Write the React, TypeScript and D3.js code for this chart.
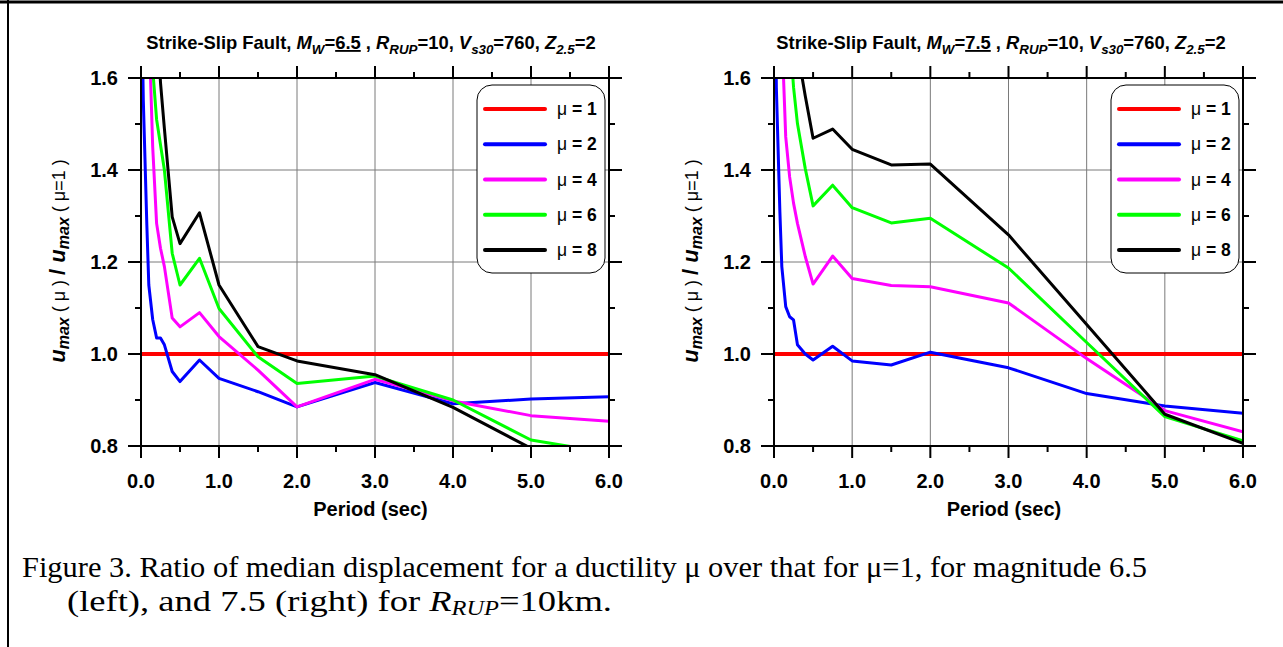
import React from 'react';
import * as d3 from 'd3';

const periods = [0.01, 0.02, 0.03, 0.05, 0.075, 0.1, 0.15, 0.2, 0.25, 0.3, 0.4, 0.5, 0.75, 1, 1.5, 2, 3, 4, 5, 6];
const muLabels = ['1', '2', '4', '6', '8'];
const seriesColors = ['#ff0000', '#0000ff', '#ff00ff', '#00ff00', '#000000'];
const xTicks = [0, 1, 2, 3, 4, 5, 6];
const xTickLabels = ['0.0', '1.0', '2.0', '3.0', '4.0', '5.0', '6.0'];
const yTicks = [0.8, 1.0, 1.2, 1.4, 1.6];
const yTickLabels = ['0.8', '1.0', '1.2', '1.4', '1.6'];

// Mw 6.5
const m65Mu1 = [1, 1, 1, 1, 1, 1, 1, 1, 1, 1, 1, 1, 1, 1, 1, 1, 1, 1, 1, 1];
const m65Mu2 = [1.85, 1.65, 1.55, 1.43, 1.28, 1.15, 1.075, 1.035, 1.035, 1.02, 0.962, 0.94, 0.987, 0.947, 0.918, 0.885, 0.938, 0.892, 0.902, 0.907];
const m65Mu4 = [3.0, 2.6, 2.3, 2.0, 1.85, 1.72, 1.45, 1.284, 1.23, 1.19, 1.078, 1.059, 1.09, 1.038, 0.965, 0.885, 0.945, 0.898, 0.866, 0.854];
const m65Mu6 = [3.3, 2.9, 2.6, 2.3, 2.05, 1.9, 1.62, 1.51, 1.455, 1.4, 1.219, 1.15, 1.208, 1.099, 0.994, 0.936, 0.952, 0.9, 0.813, 0.785];
const m65Mu8 = [3.6, 3.2, 2.9, 2.6, 2.3, 2.1, 1.9, 1.75, 1.59, 1.49, 1.298, 1.24, 1.307, 1.15, 1.016, 0.985, 0.955, 0.884, 0.795, 0.72];

// Mw 7.5
const m75Mu1 = [1, 1, 1, 1, 1, 1, 1, 1, 1, 1, 1, 1, 1, 1, 1, 1, 1, 1, 1, 1];
const m75Mu2 = [1.9, 1.75, 1.58, 1.46, 1.31, 1.19, 1.103, 1.081, 1.074, 1.02, 1.0, 0.987, 1.017, 0.985, 0.976, 1.004, 0.97, 0.914, 0.887, 0.871];
const m75Mu4 = [3.0, 2.6, 2.3, 2.0, 1.85, 1.7, 1.472, 1.385, 1.328, 1.284, 1.212, 1.152, 1.213, 1.164, 1.149, 1.146, 1.111, 0.99, 0.877, 0.831];
const m75Mu6 = [3.3, 2.9, 2.6, 2.3, 2.05, 1.9, 1.8, 1.7, 1.58, 1.501, 1.403, 1.322, 1.367, 1.318, 1.285, 1.295, 1.187, 1.025, 0.864, 0.811];
const m75Mu8 = [3.6, 3.2, 2.9, 2.6, 2.3, 2.1, 1.95, 1.85, 1.75, 1.66, 1.561, 1.469, 1.489, 1.445, 1.411, 1.413, 1.259, 1.064, 0.869, 0.806];

const SANS = 'Liberation Sans, Arimo, Arial, Helvetica, sans-serif';
const SERIF = 'Liberation Serif, Tinos, Times New Roman, Times, serif';

type PanelProps = {
  id: string;
  left: number;
  right: number;
  titleCx: number;
  mag: string;
  series: number[][];
};

const sans = (size: number, bold = true): React.CSSProperties => ({
  fontFamily: SANS,
  fontSize: size,
  fontWeight: bold ? 700 : 400,
});

function Panel({ id, left, right, titleCx, mag, series }: PanelProps) {
  const top = 78;
  const bottom = 446;
  const x = d3.scaleLinear().domain([0, 6]).range([left, right]);
  const y = d3.scaleLinear().domain([0.8, 1.6]).range([bottom, top]);
  const line = d3
    .line<number>()
    .x((_, i) => x(periods[i]))
    .y((d) => y(d));
  const xMinor = d3.range(0, 6.01, 0.5).filter((v) => Math.abs(v - Math.round(v)) > 0.01);
  const yMinor = [0.9, 1.1, 1.3, 1.5];
  const legW = 128;
  const legX = right - 4 - legW;
  const legTop = 85;
  const legH = 188;
  const labelCx = (left + right) / 2 - 4.5;
  const yLabX = left - 76;
  const yMid = 261;
  const sub = 13.3;

  return (
    <g>
      <defs>
        <clipPath id={`clip-${id}`}>
          <rect x={left} y={top} width={right - left} height={bottom - top} />
        </clipPath>
      </defs>
      {xTicks.slice(1, -1).map((t) => (
        <line key={`gx${t}`} x1={x(t)} x2={x(t)} y1={top} y2={bottom} stroke="#7a7a7a" strokeWidth={1} />
      ))}
      {yTicks.slice(1, -1).map((t) => (
        <line key={`gy${t}`} x1={left} x2={right} y1={y(t)} y2={y(t)} stroke="#7a7a7a" strokeWidth={1} />
      ))}
      <g clipPath={`url(#clip-${id})`}>
        {series.map((s, i) => (
          <path
            key={i}
            d={line(s) || ''}
            fill="none"
            stroke={seriesColors[i]}
            strokeWidth={i === 0 ? 4 : 3}
            strokeLinejoin="round"
          />
        ))}
      </g>
      <rect x={left} y={top} width={right - left} height={bottom - top} fill="none" stroke="#000" strokeWidth={2} />
      {xTicks.map((t) => (
        <g key={`tx${t}`}>
          <line x1={x(t)} x2={x(t)} y1={bottom} y2={bottom + 12} stroke="#000" strokeWidth={2} />
          <line x1={x(t)} x2={x(t)} y1={top} y2={top - 12} stroke="#000" strokeWidth={2} />
        </g>
      ))}
      {xMinor.map((t) => (
        <g key={`mx${t}`}>
          <line x1={x(t)} x2={x(t)} y1={bottom} y2={bottom + 6} stroke="#000" strokeWidth={2} />
          <line x1={x(t)} x2={x(t)} y1={top} y2={top - 6} stroke="#000" strokeWidth={2} />
        </g>
      ))}
      {yTicks.map((t) => (
        <g key={`ty${t}`}>
          <line x1={left} x2={left - 13} y1={y(t)} y2={y(t)} stroke="#000" strokeWidth={2} />
          <line x1={right} x2={right + 13} y1={y(t)} y2={y(t)} stroke="#000" strokeWidth={2} />
        </g>
      ))}
      {yMinor.map((t) => (
        <g key={`my${t}`}>
          <line x1={left} x2={left - 6} y1={y(t)} y2={y(t)} stroke="#000" strokeWidth={2} />
          <line x1={right} x2={right + 6} y1={y(t)} y2={y(t)} stroke="#000" strokeWidth={2} />
        </g>
      ))}
      {xTicks.map((t, i) => (
        <text key={`lx${t}`} x={x(t)} y={488} textAnchor="middle" style={sans(20)}>
          {xTickLabels[i]}
        </text>
      ))}
      {yTicks.map((t, i) => (
        <text key={`ly${t}`} x={left - 23} y={y(t) + 7} textAnchor="end" style={sans(20)}>
          {yTickLabels[i]}
        </text>
      ))}
      <text x={labelCx} y={516} textAnchor="middle" style={sans(20)}>
        Period (sec)
      </text>
      <text transform={`translate(${yLabX},${yMid}) rotate(-90)`} textAnchor="middle" style={sans(22, false)}>
        <tspan style={{ fontWeight: 700, fontStyle: 'italic' }}>u</tspan>
        <tspan style={{ fontWeight: 700, fontStyle: 'italic', fontSize: 16 }} dy={4}>max</tspan>
        <tspan style={{ fontSize: 18 }} dy={-4}> ( μ ) </tspan>
        <tspan style={{ fontWeight: 700 }}>/ </tspan>
        <tspan style={{ fontWeight: 700, fontStyle: 'italic' }}>u</tspan>
        <tspan style={{ fontWeight: 700, fontStyle: 'italic', fontSize: 16 }} dy={4}>max</tspan>
        <tspan style={{ fontSize: 18 }} dy={-4}> ( μ=1 )</tspan>
      </text>
      <text x={titleCx} y={49} textAnchor="middle" style={sans(18.4)}>
        <tspan>Strike-Slip Fault, </tspan>
        <tspan style={{ fontStyle: 'italic' }}>M</tspan>
        <tspan style={{ fontStyle: 'italic', fontSize: sub }} dy={5}>W</tspan>
        <tspan dy={-5}>=</tspan>
        <tspan style={{ textDecoration: 'underline' }}>{mag}</tspan>
        <tspan> , </tspan>
        <tspan style={{ fontStyle: 'italic' }}>R</tspan>
        <tspan style={{ fontStyle: 'italic', fontSize: sub }} dy={5}>RUP</tspan>
        <tspan dy={-5}>=10, </tspan>
        <tspan style={{ fontStyle: 'italic' }}>V</tspan>
        <tspan style={{ fontStyle: 'italic', fontSize: sub }} dy={5}>s30</tspan>
        <tspan dy={-5}>=760, </tspan>
        <tspan style={{ fontStyle: 'italic' }}>Z</tspan>
        <tspan style={{ fontStyle: 'italic', fontSize: sub }} dy={5}>2.5</tspan>
        <tspan dy={-5}>=2</tspan>
      </text>
      <rect x={legX} y={legTop} width={legW} height={legH} rx={15} ry={15} fill="#fff" stroke="#000" strokeWidth={1} />
      {muLabels.map((m, i) => {
        const ly = 109 + i * 35.25;
        return (
          <g key={`leg${m}`}>
            <line x1={legX + 8} x2={legX + 68} y1={ly} y2={ly} stroke={seriesColors[i]} strokeWidth={4} strokeLinecap="round" />
            <text x={legX + 80} y={ly + 6} style={sans(17.5, false)}>
              μ<tspan style={{ fontWeight: 700 }}> = {m}</tspan>
            </text>
          </g>
        );
      })}
    </g>
  );
}

export default function App() {
  return (
    <svg
      width={1283}
      height={647}
      style={{ position: 'absolute', left: 0, top: 0, background: '#fff' }}
      xmlns="http://www.w3.org/2000/svg"
    >
      <rect x={0} y={0} width={1283} height={647} fill="#fff" />
      <line x1={0} x2={1283} y1={2} y2={2} stroke="#000" strokeWidth={3} />
      <line x1={8} x2={8} y1={0} y2={647} stroke="#000" strokeWidth={2} />
      <Panel id="a" left={141} right={609} titleCx={371} mag="6.5" series={[m65Mu1, m65Mu2, m65Mu4, m65Mu6, m65Mu8]} />
      <Panel id="b" left={774} right={1243} titleCx={1001} mag="7.5" series={[m75Mu1, m75Mu2, m75Mu4, m75Mu6, m75Mu8]} />
      <text x={22} y={577} style={{ fontFamily: SERIF, fontSize: 30 }} textLength={1125} lengthAdjust="spacingAndGlyphs">
        Figure 3. Ratio of median displacement for a ductility μ over that for μ=1, for magnitude 6.5
      </text>
      <text x={67} y={611} style={{ fontFamily: SERIF, fontSize: 30 }} textLength={545} lengthAdjust="spacingAndGlyphs">
        <tspan>(left), and 7.5 (right) for </tspan>
        <tspan style={{ fontStyle: 'italic' }}>R</tspan>
        <tspan style={{ fontStyle: 'italic', fontSize: 20 }} dy={4}>RUP</tspan>
        <tspan dy={-4}>=10km.</tspan>
      </text>
    </svg>
  );
}
